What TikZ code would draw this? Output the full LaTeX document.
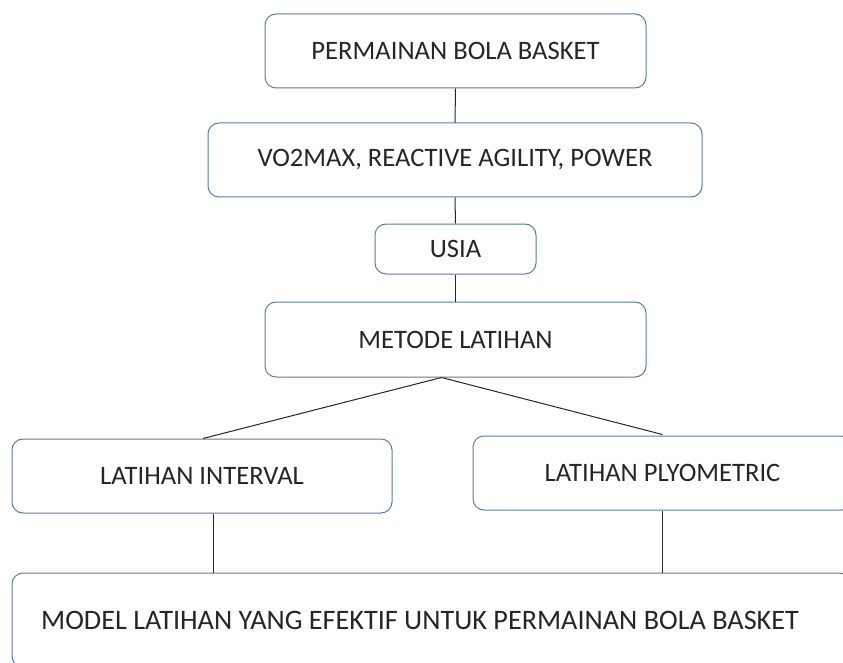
\documentclass[tikz,border=0pt]{standalone}
\usepackage{fontspec}
\setmainfont{Carlito}
\definecolor{boxline}{HTML}{5B7BA3}
\tikzset{
  box/.style={draw=boxline, line width=1pt, rounded corners=11pt, fill=white,
    inner sep=0pt, font=\fontsize{26.6}{32}\selectfont, text=black!85},
  conn/.style={draw=black!85, line width=1pt}
}
\begin{document}
\begin{tikzpicture}[x=1pt,y=-1pt]
\useasboundingbox (0,0) rectangle (843,663);
\clip (0,0) rectangle (843,663);
\fill[white] (0,0) rectangle (843,663);
% nodes (centre, size)
\node[box, minimum width=381pt, minimum height=74pt] (b1) at (455.5,51) {PERMAINAN BOLA BASKET};
\node[box, minimum width=494pt, minimum height=74pt] (b2) at (455,160) {VO2MAX, REACTIVE AGILITY, POWER};
\node[box, minimum width=161pt, minimum height=50pt] (b3) at (455.5,249) {USIA};
\node[box, minimum width=381pt, minimum height=75pt] (b4) at (455.5,339.5) {METODE LATIHAN};
\node[box, minimum width=380pt, minimum height=74pt] (b5) at (202,476) {LATIHAN INTERVAL};
\node[box, minimum width=379pt, minimum height=74pt] (b6) at (662.5,473) {LATIHAN PLYOMETRIC};
\node[box, minimum width=838pt, minimum height=94pt] (b7) at (431,620) {};
\node[font=\fontsize{28.2}{34}\selectfont, text=black!85, inner sep=0pt] (t7) at (420,620) {MODEL LATIHAN YANG EFEKTIF UNTUK PERMAINAN BOLA BASKET};
% connectors
\draw[conn] (b1.south) -- (b2.north);
\draw[conn] (b2.south) -- (b3.north);
\draw[conn] (b3.south) -- (b4.north);
\coordinate (split) at ([xshift=-14pt]b4.south);
\draw[conn] (split) -- ([xshift=1pt]b5.north);
\draw[conn] (split) -- ([yshift=1pt]b6.north);
\coordinate (c5) at ([xshift=11pt]b5.south);
\draw[conn] (c5) -- (c5 |- b7.north);
\draw[conn] (b6.south) -- (b6.south |- b7.north);
\end{tikzpicture}
\end{document}
